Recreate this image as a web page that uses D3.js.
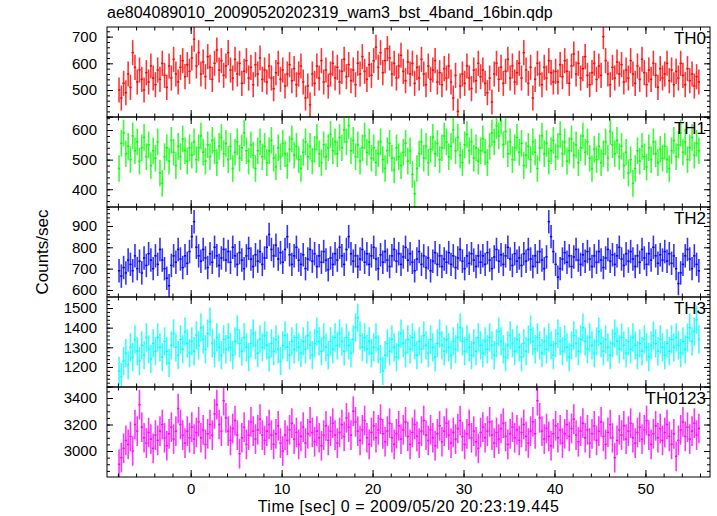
<!DOCTYPE html>
<html>
<head>
<meta charset="utf-8">
<script src="https://cdn.jsdelivr.net/npm/d3@7"></script>
<style>
  html, body { margin: 0; padding: 0; background: #fff; }
  svg { display: block; }
</style>
</head>
<body>
<svg id="chart" width="717" height="516"></svg>
<script>
// ---------------- DATA ----------------
const title = "ae804089010_20090520202319_wam3_bst_4band_16bin.qdp";
const xLabel = "Time [sec] 0 = 2009/05/20 20:23:19.445";
const yLabel = "Counts/sec";
const panelNames = ["TH0", "TH1", "TH2", "TH3", "TH0123"];
const panelColors = ["#ff0000", "#00ff00", "#0000ff", "#00ffff", "#ff00ff"];
const timeStart = -8;      // sec, start of first bin
const binWidth = 0.25;     // sec
const xTickLabels = [0, 10, 20, 30, 40, 50];
const yTickLabels = [
  [500, 600, 700],
  [400, 500, 600],
  [600, 700, 800, 900],
  [1200, 1300, 1400, 1500],
  [3000, 3200, 3400]
];
const yRanges = [[399, 736], [340, 644], [567, 989], [1098, 1556], [2804, 3483]];
const errHalf = [47, 45, 55, 72, 112];

const th0 = [
500,470,525,490,560,510,640,585,530,575,540,500,565,530,590,545,
520,575,540,600,555,510,590,545,615,560,530,585,610,550,595,570,
620,690,590,640,560,605,550,625,585,540,600,650,575,610,555,590,
640,575,545,615,560,600,525,570,610,545,585,520,595,560,620,540,
575,530,590,545,505,565,600,540,575,515,560,595,535,580,520,560,
590,530,470,515,445,560,525,590,545,610,530,575,515,560,600,545,
585,530,570,615,550,595,535,575,520,600,560,625,570,540,595,555,
610,660,585,640,565,610,655,620,560,600,545,590,630,570,535,605,
560,600,525,585,545,615,560,520,590,540,575,610,530,565,520,580,
545,590,530,470,555,420,515,560,525,590,545,505,575,535,600,550,
575,525,490,545,455,560,600,540,585,525,570,615,545,590,530,565,
600,545,640,575,525,585,470,540,600,560,520,585,545,610,565,530,
570,530,595,550,610,570,525,590,635,560,600,545,580,625,555,520,
565,600,540,590,555,700,610,560,520,585,545,605,560,595,530,575,
545,610,560,525,590,540,615,565,520,575,540,600,555,510,580,545,
560,600,535,575,520,570,545,600,555,520,580,535,560,515,550,530
];
const th1 = [
470,555,590,520,545,500,580,530,560,495,540,575,510,550,480,530,
505,560,455,420,510,540,495,565,525,480,545,510,570,530,495,540,
515,560,500,540,580,525,495,550,510,565,530,490,545,575,520,555,
500,545,470,525,560,505,540,590,530,495,550,515,470,530,560,510,
545,490,530,565,505,475,540,510,555,520,480,535,570,515,545,500,
470,525,560,510,545,495,535,575,520,490,550,510,540,585,530,560,
520,575,540,600,560,615,530,565,510,550,495,540,580,525,560,505,
540,490,520,560,500,470,530,555,505,465,540,510,480,525,555,495,
530,450,385,470,520,560,505,545,490,535,575,520,555,500,540,580,
560,510,545,600,530,575,515,490,550,585,530,560,505,540,495,530,
570,525,490,545,590,560,615,580,630,550,595,520,560,500,540,575,
525,555,480,515,545,500,560,525,470,540,580,520,555,495,530,565,
510,545,585,520,560,495,530,570,515,550,490,540,580,525,560,505,
470,535,500,545,490,520,560,505,595,550,520,565,510,545,480,525,
455,500,420,470,530,495,545,510,475,540,500,560,520,490,535,505,
545,500,470,530,565,510,550,590,525,560,500,540,575,515,555,530
];
const th2 = [
690,665,705,680,740,720,690,760,700,735,680,750,715,770,740,700,
760,720,790,740,700,655,620,715,760,730,790,745,705,760,725,780,
850,920,800,760,735,790,750,705,770,730,800,760,715,750,790,740,
780,730,800,760,720,775,740,700,760,795,745,710,765,735,780,720,
750,800,860,790,760,810,745,775,730,790,850,765,720,760,800,740,
720,765,700,745,790,735,770,710,760,730,780,740,695,750,720,770,
740,800,760,720,790,850,770,735,760,710,745,790,730,770,720,760,
800,745,700,765,730,780,740,710,760,790,735,770,720,755,800,740,
770,730,690,745,780,720,760,705,750,690,735,775,720,760,710,745,
730,775,720,760,705,750,790,735,700,760,725,770,740,710,760,730,
760,720,775,740,700,755,790,735,765,720,760,800,745,715,770,735,
750,715,770,735,790,745,710,760,730,780,740,700,755,920,850,780,
720,660,700,745,775,730,760,710,755,790,740,720,765,735,780,745,
710,760,730,780,740,705,750,790,735,765,720,760,800,745,715,770,
735,780,745,710,760,730,790,750,720,770,740,800,760,725,765,740,
780,735,770,725,760,700,630,680,720,760,790,745,700,760,720,690
];
const th3 = [
1180,1150,1230,1270,1210,1300,1250,1340,1280,1230,1310,1260,1350,1290,1240,1320,
1280,1350,1300,1250,1330,1280,1220,1310,1370,1300,1260,1340,1290,1380,1320,1270,
1330,1280,1360,1310,1400,1340,1290,1370,1430,1320,1270,1350,1300,1260,1340,1290,
1350,1300,1260,1330,1390,1320,1280,1350,1300,1250,1320,1370,1310,1270,1340,1300,
1360,1310,1250,1320,1280,1340,1290,1230,1310,1360,1300,1260,1330,1290,1350,1300,
1270,1330,1290,1360,1310,1260,1320,1380,1330,1280,1350,1300,1260,1330,1290,1350,
1310,1370,1330,1280,1350,1310,1270,1340,1400,1450,1360,1300,1350,1290,1330,1270,
1300,1350,1290,1240,1180,1260,1320,1280,1340,1300,1250,1310,1370,1320,1270,1340,
1290,1350,1310,1260,1330,1290,1360,1310,1270,1340,1300,1250,1320,1370,1310,1280,
1340,1300,1260,1330,1290,1350,1400,1330,1280,1340,1300,1260,1320,1280,1350,1310,
1270,1330,1290,1350,1310,1260,1320,1380,1330,1290,1250,1310,1360,1320,1280,1340,
1300,1250,1320,1280,1340,1390,1330,1290,1350,1310,1270,1330,1290,1350,1310,1260,
1320,1370,1330,1280,1340,1300,1250,1310,1360,1320,1280,1340,1400,1330,1290,1350,
1310,1270,1330,1380,1320,1280,1340,1300,1260,1320,1370,1330,1290,1350,1310,1270,
1330,1290,1350,1310,1260,1320,1280,1340,1300,1250,1310,1360,1320,1280,1340,1300,
1260,1320,1280,1340,1300,1350,1310,1270,1330,1290,1350,1400,1330,1380,1440,1340
];
const th0123 = [
2900,2950,3020,3080,3050,3110,3000,3200,3150,3350,3180,3100,3060,3140,3090,3020,
3120,3080,3150,3200,3100,3040,3130,3180,3090,3150,3320,3200,3120,3060,3150,3100,
3180,3090,3140,3220,3100,3160,3050,3130,3200,3120,3280,3350,3200,3150,3380,3250,
3150,3080,3170,3230,3120,2980,3100,3180,3050,3120,3220,3150,3090,3160,3240,3120,
3080,3150,3200,3120,3050,3130,3190,3060,3000,3120,3080,3160,3210,3090,3140,3050,
3110,3180,3060,3130,3220,3140,3070,3150,3100,3040,3120,3190,3080,3150,3210,3120,
3060,3140,3200,3110,3250,3180,3120,3300,3220,3150,3080,3160,3230,3100,3050,3140,
3190,3100,3160,3240,3130,3070,3150,3210,3100,3050,3130,3190,3090,3160,3220,3110,
3050,3140,3200,3110,3060,3150,3230,3120,3080,3160,3100,3040,3130,3190,3070,3150,
3210,3120,3060,3140,3090,3170,3230,3110,3050,3130,3200,3100,3150,3070,3020,3140,
3180,3100,3150,3220,3120,3060,3140,3090,3170,3210,3110,3050,3130,3180,3100,3160,
3080,3140,3200,3110,3060,3150,3220,3130,3380,3250,3150,3090,3170,3110,3040,3130,
3190,3100,3160,3060,3130,3200,3110,3170,3240,3120,3070,3150,3210,3100,3160,3060,
3130,3190,3080,3150,3220,3110,3050,3140,3200,3100,2950,3080,3160,3120,3190,3090,
3150,3210,3100,3060,3140,3180,3090,3160,3230,3120,3050,3130,3190,3100,3170,3080,
3140,3200,3110,3050,3130,2960,3080,3160,3220,3110,3180,3090,3150,3210,3120,3170
];
const seriesValues = [th0, th1, th2, th3, th0123];

// ---------------- LAYOUT ----------------
const FONT = "'Liberation Sans', Arial, Helvetica, sans-serif";
const plotLeft = 107, plotRight = 710, plotTop = 27, panelH = 90;
const nPanels = panelNames.length;
const svg = d3.select("#chart");

const x = d3.scaleLinear().domain([-9.2, 57.1]).range([plotLeft, plotRight]);
const xMajor = xTickLabels;
const xMinor = d3.range(-8, 58, 2);

svg.append("text")
  .attr("x", plotLeft).attr("y", 18)
  .attr("font-family", FONT).attr("font-size", 16).attr("fill", "#000")
  .text(title);

function styleAxis(g) {
  g.select(".domain").remove();
  g.selectAll(".tick line").attr("stroke", "#000").attr("stroke-width", 1);
  g.selectAll("text").attr("font-family", FONT).attr("font-size", 15).attr("fill", "#000");
}

seriesValues.forEach((vals, p) => {
  const top = plotTop + p * panelH, bottom = top + panelH;
  const y = d3.scaleLinear().domain(yRanges[p]).range([bottom, top]);
  const g = svg.append("g");
  const clipId = "clip" + p;
  svg.append("clipPath").attr("id", clipId)
    .append("rect").attr("x", plotLeft).attr("y", top)
    .attr("width", plotRight - plotLeft).attr("height", panelH);

  const e = errHalf[p];
  const bins = vals.map((v, i) => ({ t: timeStart + binWidth * (i + 0.5), v }));
  const dg = g.append("g").attr("clip-path", `url(#${clipId})`)
    .attr("stroke", panelColors[p]);
  dg.selectAll("line.ev").data(bins).join("line").attr("class", "ev")
    .attr("stroke-width", 1.6).attr("stroke-opacity", 0.8)
    .attr("x1", d => x(d.t)).attr("x2", d => x(d.t))
    .attr("y1", d => y(d.v - e)).attr("y2", d => y(d.v + e));
  dg.selectAll("line.eh").data(bins).join("line").attr("class", "eh")
    .attr("stroke-width", 1.5)
    .attr("x1", d => x(d.t - binWidth / 2)).attr("x2", d => x(d.t + binWidth / 2))
    .attr("y1", d => y(d.v)).attr("y2", d => y(d.v));

  // y ticks
  const yMaj = yTickLabels[p];
  const step = yMaj[1] - yMaj[0];
  const minorStep = step === 200 ? 50 : 20;
  const yMin = d3.range(Math.ceil(yRanges[p][0] / minorStep) * minorStep, yRanges[p][1], minorStep);
  const yMajAll = d3.range(Math.ceil(yRanges[p][0] / step) * step, yRanges[p][1], step);

  g.append("g").attr("transform", `translate(${plotLeft},0)`)
    .call(d3.axisLeft(y).tickValues(yMin).tickSize(-3).tickFormat("")).call(styleAxis);
  g.append("g").attr("transform", `translate(${plotLeft},0)`)
    .call(d3.axisLeft(y).tickValues(yMajAll).tickSize(-6).tickPadding(10)
      .tickFormat(d => yMaj.includes(d) ? d : "")).call(styleAxis);
  g.append("g").attr("transform", `translate(${plotRight},0)`)
    .call(d3.axisRight(y).tickValues(yMin).tickSize(-3).tickFormat("")).call(styleAxis);
  g.append("g").attr("transform", `translate(${plotRight},0)`)
    .call(d3.axisRight(y).tickValues(yMajAll).tickSize(-6).tickFormat("")).call(styleAxis);

  // x ticks top & bottom
  const isLast = p === nPanels - 1;
  g.append("g").attr("transform", `translate(0,${bottom})`)
    .call(d3.axisBottom(x).tickValues(xMinor).tickSize(-3.5).tickFormat("")).call(styleAxis);
  g.append("g").attr("transform", `translate(0,${bottom})`)
    .call(d3.axisBottom(x).tickValues(xMajor).tickSize(-7).tickPadding(6)
      .tickFormat(d => isLast ? d : "")).call(styleAxis);
  g.append("g").attr("transform", `translate(0,${top})`)
    .call(d3.axisTop(x).tickValues(xMinor).tickSize(-3.5).tickFormat("")).call(styleAxis);
  g.append("g").attr("transform", `translate(0,${top})`)
    .call(d3.axisTop(x).tickValues(xMajor).tickSize(-7).tickFormat("")).call(styleAxis);

  // frame
  g.append("rect").attr("x", plotLeft).attr("y", top)
    .attr("width", plotRight - plotLeft).attr("height", panelH)
    .attr("fill", "none").attr("stroke", "#000").attr("stroke-width", 1);

  // panel name
  g.append("text").attr("x", plotRight - 4).attr("y", top + 17)
    .attr("text-anchor", "end").attr("font-family", FONT).attr("font-size", 17)
    .attr("fill", "#000").text(panelNames[p]);
});

svg.append("text")
  .attr("transform", `translate(48,${plotTop + nPanels * panelH / 2}) rotate(-90)`)
  .attr("text-anchor", "middle").attr("font-family", FONT).attr("font-size", 17)
  .attr("fill", "#000").text(yLabel);

svg.append("text")
  .attr("x", (plotLeft + plotRight) / 2).attr("y", 512)
  .attr("text-anchor", "middle").attr("font-family", FONT).attr("font-size", 16)
  .attr("letter-spacing", 0.5)
  .attr("fill", "#000").text(xLabel);
</script>
</body>
</html>
